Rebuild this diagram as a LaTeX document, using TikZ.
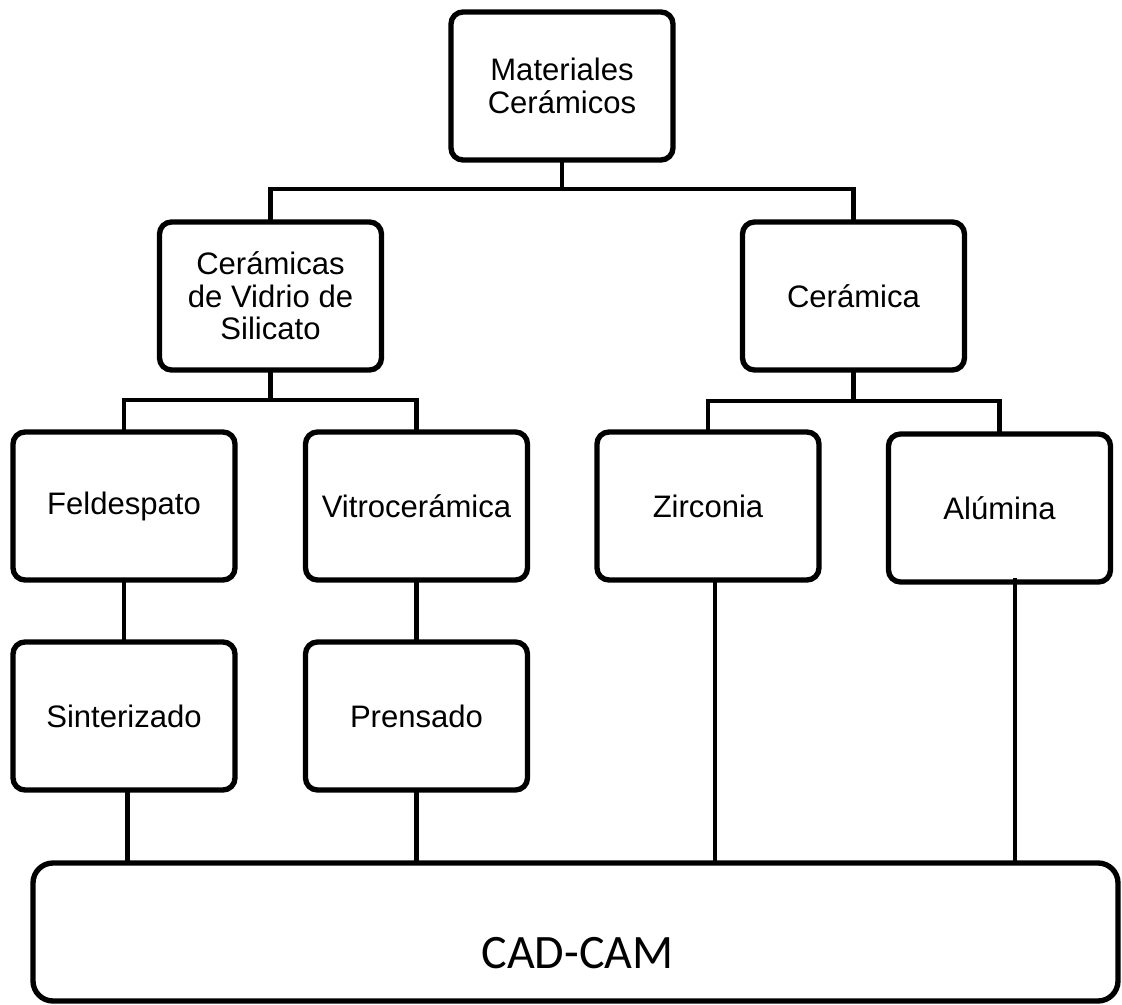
\documentclass[tikz,border=0pt]{standalone}
\usepackage{fontspec}
\setmainfont{Liberation Sans}
\newfontfamily\cadfont{Carlito}
\begin{document}
\begin{tikzpicture}[x=0.75pt,y=-0.75pt,
  box/.style={draw=black, line width=4pt, rounded corners=9pt, minimum width=166.5pt, minimum height=111pt, inner sep=0pt, outer sep=0pt, align=center, font=\fontsize{23.3pt}{24.5pt}\selectfont},
  link/.style={draw=black, line width=3.6pt}]
\useasboundingbox (0,0) rectangle (1122,1005);
\node[box] (mat) at (562,86) {Materiales\\Cerámicos};
\node[box] (cvs) at (270.5,296) {Cerámicas\\de Vidrio de\\Silicato};
\node[box] (cer) at (853.5,296) {Cerámica};
\node[box] (fel) at (124,506) {Feldespato};
\node[box] (vit) at (416.5,506) {Vitrocerámica};
\node[box] (zir) at (708,506) {Zirconia};
\node[box] (alu) at (999.5,508) {Alúmina};
\node[box] (sin) at (124,716) {Sinterizado};
\node[box] (pre) at (416.5,716) {Prensado};
\node[box, rounded corners=15pt, minimum width=813.75pt, minimum height=103.5pt] (cad) at (575.5,932) {};
\node[font=\cadfont\fontsize{36pt}{40pt}\selectfont, inner sep=0pt] (cadlabel) at (577.5,953) {CAD-CAM};
% connectors
\coordinate (j0) at (562,189);
\draw[link] (mat.south) -- (j0);
\draw[link] (cvs.north) |- (j0) -| (cer.north);
\coordinate (j1) at (270.5,400);
\draw[link] (cvs.south) -- (j1);
\draw[link] (fel.north) |- (j1) -| (vit.north);
\coordinate (j2) at (853.5,401);
\draw[link] (cer.south) -- (j2);
\draw[link] (zir.north) |- (j2) -| (alu.north);
\draw[link] (fel.south) -- (sin.north);
\draw[link] (vit.south) -- (pre.north);
\coordinate (sd) at ([xshift=2.6pt]sin.south);
\coordinate (pd) at (pre.south);
\coordinate (zd) at ([xshift=5.2pt]zir.south);
\coordinate (ad) at ([xshift=11.6pt,yshift=3pt]alu.south);
\draw[link] (sd) -- (sd |- cad.north);
\draw[link] (pd) -- (pd |- cad.north);
\draw[link] (zd) -- (zd |- cad.north);
\draw[link] (ad) -- (ad |- cad.north);
\end{tikzpicture}
\end{document}
